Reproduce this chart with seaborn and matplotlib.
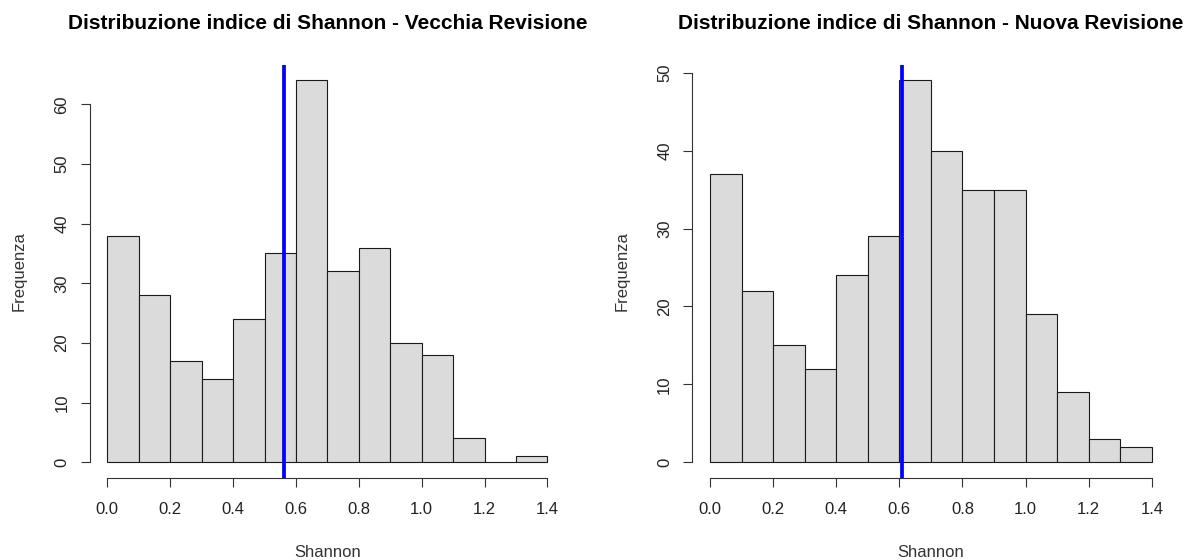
import numpy as np
import pandas as pd
import matplotlib
matplotlib.use("Agg")
import matplotlib.pyplot as plt
import seaborn as sns

# Data
bin_edges = [0.0, 0.1, 0.2, 0.3, 0.4, 0.5, 0.6, 0.7, 0.8, 0.9, 1.0, 1.1, 1.2, 1.3, 1.4]
counts_old = [38, 28, 17, 14, 24, 35, 64, 32, 36, 20, 18, 4, 0, 1]
counts_new = [37, 22, 15, 12, 24, 29, 49, 40, 35, 35, 19, 9, 3, 2]
mean_old = 0.562
mean_new = 0.608
titles = ["Distribuzione indice di Shannon - Vecchia Revisione",
          "Distribuzione indice di Shannon - Nuova Revisione"]
x_ticks = [0.0, 0.2, 0.4, 0.6, 0.8, 1.0, 1.2, 1.4]
y_ticks_old = [0, 10, 20, 30, 40, 50, 60]
y_ticks_new = [0, 10, 20, 30, 40, 50]

sns.set_style("white")
plt.rcParams['font.family'] = ['Liberation Sans', 'DejaVu Sans']

fig = plt.figure(figsize=(11.84, 5.6), dpi=100)
ax1 = fig.add_axes([0.0758, 0.1471, 0.4014, 0.7366])
ax2 = fig.add_axes([0.5847, 0.1471, 0.4030, 0.7366])

centers = [(bin_edges[i] + bin_edges[i + 1]) / 2 for i in range(len(bin_edges) - 1)]

panels = [
    (ax1, counts_old, mean_old, titles[0], y_ticks_old),
    (ax2, counts_new, mean_new, titles[1], y_ticks_new),
]

for ax, counts, mean, title, yticks in panels:
    df = pd.DataFrame({"Shannon": centers, "w": counts})
    sns.histplot(data=df, x="Shannon", weights="w", bins=bin_edges, ax=ax,
                 color="#DBDBDB", alpha=1.0, edgecolor="#1a1a1a", linewidth=0.8)
    ymax = max(counts)
    ax.set_xlim(-0.04 * 1.4, 1.4 * 1.04)
    ax.set_ylim(-0.04 * ymax, ymax * 1.04)
    ax.axvline(mean, color="#0000FF", linewidth=2.7, zorder=5)
    ax.set_xticks(x_ticks)
    ax.set_xticklabels([f"{t:.1f}" for t in x_ticks])
    ax.set_yticks(yticks)
    ax.set_yticklabels([str(t) for t in yticks], rotation=90, va="center")
    ax.tick_params(axis="both", direction="out", length=6.5, width=0.8,
                   color="#333333", labelsize=12, labelcolor="#222222",
                   left=True, bottom=True)
    ax.tick_params(axis="x", pad=11)
    ax.tick_params(axis="y", pad=8)
    for s in ["top", "right"]:
        ax.spines[s].set_visible(False)
    ax.spines["left"].set_bounds(yticks[0], yticks[-1])
    ax.spines["bottom"].set_bounds(x_ticks[0], x_ticks[-1])
    for s in ["left", "bottom"]:
        ax.spines[s].set_color("#333333")
        ax.spines[s].set_linewidth(0.8)
    ax.set_xlabel("Shannon", fontsize=12, color="#333333", labelpad=20)
    ax.set_ylabel("Frequenza", fontsize=12, color="#333333", labelpad=20)
    ax.set_title(title, fontsize=15, fontweight="bold", color="black", pad=26)
    ax.grid(False)

fig.savefig("out.png", dpi=100, facecolor="white")
